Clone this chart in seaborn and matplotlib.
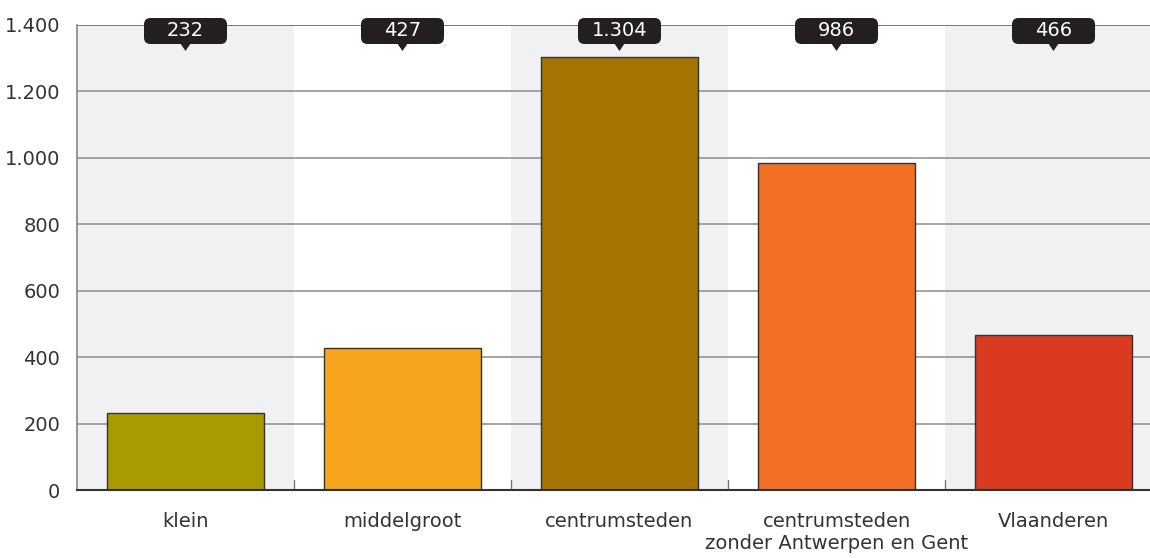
import matplotlib.pyplot as plt
import seaborn as sns
import pandas as pd
import numpy as np
from matplotlib.ticker import FuncFormatter
from matplotlib.patches import FancyBboxPatch, Polygon

categories = ['klein', 'middelgroot', 'centrumsteden',
              'centrumsteden\nzonder Antwerpen en Gent', 'Vlaanderen']
values = [232, 427, 1304, 986, 466]
colors = ['#A89A00', '#F7A41E', '#A57402', '#F26F23', '#DA3A1F']
yticks = [0, 200, 400, 600, 800, 1000, 1200, 1400]

sns.set_style("white")
plt.rcParams['font.family'] = ['DejaVu Sans']
plt.rcParams['text.color'] = '#333333'


def nl_fmt(x, p=None):
    return f'{int(x):,}'.replace(',', '.')


df = pd.DataFrame({'cat': categories, 'val': values})

fig = plt.figure(figsize=(11.5, 5.58), dpi=100)
ax = fig.add_axes([77 / 1150, 68 / 558, (1162 - 77) / 1150, 465 / 558])

# alternating background bands
for i in range(len(categories)):
    if i % 2 == 0:
        ax.axvspan(i - 0.5, i + 0.5, color='#F0F1F3', zorder=0, lw=0)

for y in yticks[1:]:
    ax.axhline(y, color='#8C8C8C' if y < 1400 else '#555555', lw=1.1, zorder=1)

sns.barplot(data=df, x='cat', y='val', hue='cat', palette=colors, legend=False,
            width=0.72, edgecolor='#333333', linewidth=1, saturation=1,
            ax=ax, zorder=2)

ax.set_xlim(-0.5, len(categories) - 0.5)
ax.set_ylim(0, 1400)
ax.set_yticks(yticks)
ax.yaxis.set_major_formatter(FuncFormatter(nl_fmt))
ax.set_xlabel('')
ax.set_ylabel('')

ax.tick_params(axis='y', length=0, pad=12, labelsize=14, labelcolor='#333333')
ax.tick_params(axis='x', length=0, pad=16, labelsize=14, labelcolor='#333333')

# small separator ticks between categories
for b in np.arange(0.5, len(categories) - 0.5, 1):
    ax.axvline(b, ymin=0, ymax=10 / 465, color='#777777', lw=1, zorder=3)

for side in ['top', 'right']:
    ax.spines[side].set_visible(False)
ax.spines['left'].set_color('#888888')
ax.spines['left'].set_linewidth(1.2)
ax.spines['bottom'].set_color('#333333')
ax.spines['bottom'].set_linewidth(1.5)
ax.spines['bottom'].set_zorder(3)

# value callouts at the top
px_y = 465 / 1400  # pixels per y unit
px_x = 217         # pixels per category
box_w = 83 / px_x
y_lo = 1400 - 19 / px_y
y_hi = 1400 + 7 / px_y
tip = 1400 - 26 / px_y
for i, v in enumerate(values):
    box = FancyBboxPatch((i - box_w / 2, y_lo), box_w, y_hi - y_lo,
                         boxstyle='round,pad=0,rounding_size=0.03',
                         mutation_aspect=px_x / px_y,
                         fc='#231F20', ec='none', zorder=5, clip_on=False)
    ax.add_patch(box)
    tri = Polygon([(i - 5 / px_x, y_lo + 1), (i + 5 / px_x, y_lo + 1), (i, tip)],
                  closed=True, fc='#231F20', ec='none', zorder=5, clip_on=False)
    ax.add_patch(tri)
    ax.text(i, (y_lo + y_hi) / 2, nl_fmt(v), ha='center', va='center',
            color='white', fontsize=14, zorder=6)

plt.savefig('out.png', dpi=100)
